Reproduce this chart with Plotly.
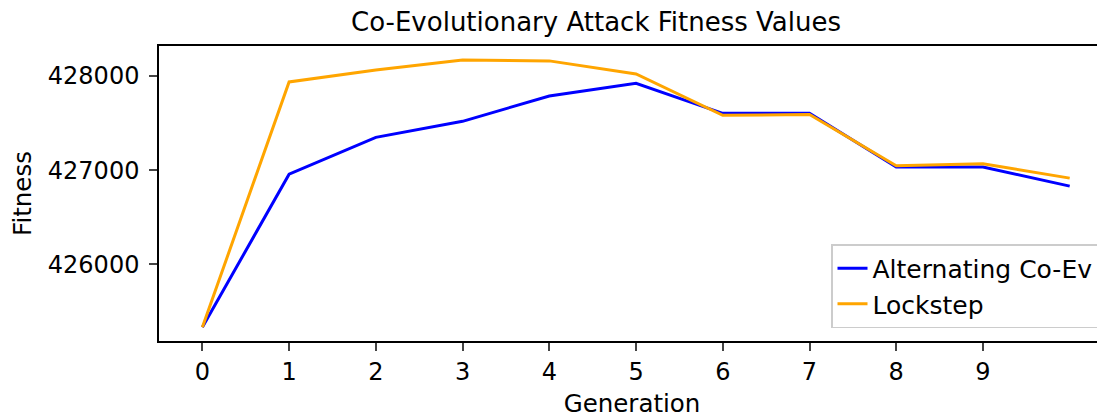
import plotly.graph_objects as go

generations = list(range(11))
alternating = [425330, 426957, 427348, 427518, 427787, 427922, 427603, 427603, 427032, 427032, 426830]
lockstep = [425330, 427936, 428064, 428170, 428160, 428021, 427582, 427590, 427046, 427067, 426915]
tick_vals = list(range(10))
y_ticks = [426000, 427000, 428000]

FONT = "DejaVu Sans"
# page body has an 8px default margin; figure is sized so the plot reaches the right window edge
W, H = 1097, 410

fig = go.Figure()
fig.add_trace(go.Scatter(x=generations, y=alternating, mode="lines", name="Alternating Co-Ev",
                         line=dict(color="#0000ff", width=3)))
fig.add_trace(go.Scatter(x=generations, y=lockstep, mode="lines", name="Lockstep",
                         line=dict(color="#ffa500", width=3)))

fig.update_layout(
    width=W, height=H,
    margin=dict(l=151, r=0, t=37.5, b=77, autoexpand=False),
    paper_bgcolor="white", plot_bgcolor="white",
    font=dict(family=FONT, size=24, color="black"),
    title=dict(text="Co-Evolutionary Attack Fitness Values", x=588 / W,
               xanchor="center", y=1 - 14 / H, yanchor="middle", font=dict(size=26)),
    showlegend=True,
    legend=dict(x=(1091 - 151) / (W - 151), y=0.044, xanchor="right", yanchor="bottom",
                bgcolor="rgba(255,255,255,0.8)", bordercolor="#cccccc", borderwidth=1.5,
                font=dict(size=25)),
    xaxis=dict(range=[-0.5, 10.407], tickvals=tick_vals, ticks="outside", ticklen=8, tickwidth=1.5,
               showline=True, linecolor="black", linewidth=1.5, mirror=True, showgrid=False, zeroline=False,
               automargin=False,
               title=dict(text="Generation", standoff=12, font=dict(size=24.5)), tickfont=dict(size=24)),
    yaxis=dict(range=[425185, 428318], tickvals=y_ticks, tickformat="d", ticks="outside", ticklen=8, tickwidth=1.5,
               ticklabelstandoff=5,
               showline=True, linecolor="black", linewidth=1.5, mirror=False, showgrid=False, zeroline=False,
               automargin=False,
               title=dict(text="Fitness", standoff=12, font=dict(size=24.5)), tickfont=dict(size=24)),
)
fig.write_html("out.html")
